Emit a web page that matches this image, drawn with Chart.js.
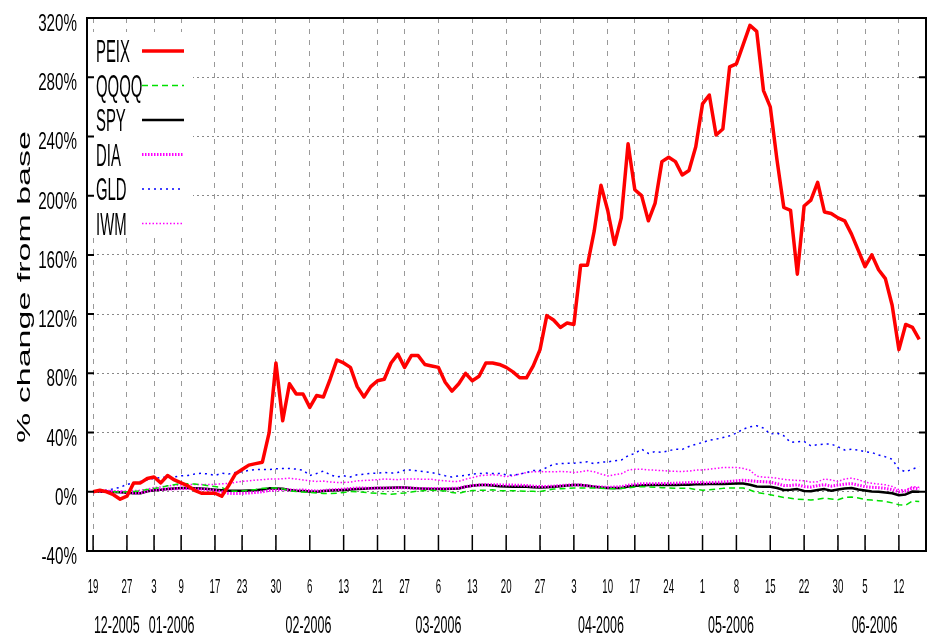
<!DOCTYPE html>
<html>
<head>
<meta charset="utf-8">
<script src="https://cdn.jsdelivr.net/npm/chart.js@4.4.1/dist/chart.umd.min.js"></script>
<style>
html, body { margin: 0; padding: 0; background: #fff; }
</style>
</head>
<body>
<canvas id="myChart" width="938" height="644"></canvas>
<script>
// trading days, Dec 19 2005 .. Jun 15 2006
var Dates = [
 "12-19","12-20","12-21","12-22","12-23","12-27","12-28","12-29","12-30",
 "01-03","01-04","01-05","01-06","01-09","01-10","01-11","01-12","01-13","01-17","01-18","01-19","01-20",
 "01-23","01-24","01-25","01-26","01-27","01-30","01-31",
 "02-01","02-02","02-03","02-06","02-07","02-08","02-09","02-10","02-13","02-14","02-15","02-16","02-17",
 "02-21","02-22","02-23","02-24","02-27","02-28",
 "03-01","03-02","03-03","03-06","03-07","03-08","03-09","03-10","03-13","03-14","03-15","03-16","03-17",
 "03-20","03-21","03-22","03-23","03-24","03-27","03-28","03-29","03-30","03-31",
 "04-03","04-04","04-05","04-06","04-07","04-10","04-11","04-12","04-13","04-17","04-18","04-19","04-20","04-21",
 "04-24","04-25","04-26","04-27","04-28",
 "05-01","05-02","05-03","05-04","05-05","05-08","05-09","05-10","05-11","05-12","05-15","05-16","05-17","05-18","05-19",
 "05-22","05-23","05-24","05-25","05-26","05-30","05-31",
 "06-01","06-02","06-05","06-06","06-07","06-08","06-09","06-12","06-13","06-14","06-15"
];

// % change from base
var PEIX = [0,1,0,-2,-5,-3,6,6,9,10, 6,11,8,6,4,1,-1,-1,-1,-3,
 4,12,15,18,19,20,40,87,48,73, 66,66,57,65,64,76,89,87,84,71,
 64,71,75,76,87,93,84,92,92,86, 85,84,74,68,73,80,75,78,87,87,
 86,84,81,77,77,85,96,119,116,111, 114,113,153,153,176,207,190,167,185,235,
 204,200,183,195,223,226,223,214,217,233, 262,268,241,245,287,289,302,315,311,271,
 260,224,192,190,147,193,197,209,189,188, 185,183,174,163,152,160,150,144,126,96,
 113,111,103];
var QQQQ = [0,0,0,0,-0.2,0,0.2,0.7,1.5,2.3, 3,4,4.8,5.6,5.4,5.2,4.8,4,3.5,2.9,
 0.7,0.4,0.5,1.1,1.5,2.3,2.5,2.5,2,0.7, 0.2,-0.2,-0.5,-0.8,-1.1,-1.1,-1,-0.5,0.2,0,
 -0.4,-0.8,-1.1,-1.4,-1.6,-1.2,-0.8,-0.2,0.5,0.8, 1.1,0.8,0.5,-0.5,-1,0.2,0.8,1,1,1.3,
 0.7,0.7,0.7,0.5,0.3,0.3,0.2,1,1.8,2.1, 2.3,2.5,2.5,2.5,2.5,2.3,2.2,2.1,2.3,2.5,
 3.2,3.4,3.3,3,2.8,2.5,2.3,2.4,2.5,1.5, 1.1,1.3,1.8,2.3,2.5,2.5,2.5,1.2,-0.5,-1.2,
 -2,-2.8,-3.8,-4.3,-5,-5.2,-5.6,-5,-4.3,-4.8, -5.4,-3.8,-3.5,-4.2,-5.2,-5.6,-6,-6.5,-7.5,-8.8,
 -9,-6.3,-6.6];
var SPY = [0,0,0.2,-0.2,-0.4,-0.6,-1,-1,0.3,1.1, 1.3,1.8,2.2,2.5,2.5,2.4,2.2,1.8,1.4,1.1,
 0.7,0.7,0.7,0.9,1.1,1.6,2.3,2.2,2,1.2, 0.7,0.5,0.2,0,0.5,0.8,1,1.2,1.5,1.8,
 2.1,2.3,2.5,2.5,2.7,2.9,2.9,2.6,2.3,2, 1.8,1.8,1.9,2.1,2.2,3.4,4,4.5,4.5,4.2,
 3.8,3.5,3.4,3.4,3.4,3.1,2.9,3,3.4,3.8, 4.2,4.5,4.5,4,3.4,2.9,2.5,2.5,2.5,3.5,
 4.1,4.3,4.5,4.5,4.5,4.6,4.6,4.7,4.7,5, 5.1,5.2,5.2,5.3,5.5,5.6,5.6,4.8,3.6,3.4,
 3.4,2.5,1.2,1.3,1.8,0.5,0.3,1.2,1.8,0.7, 1.5,2.2,2.5,1.5,0.8,0.2,0,-0.5,-1,-2.3,
 -1.8,0.2,0];
var DIA = [0,0.3,0.5,0.2,-0.2,-0.5,-0.8,-0.8,0.5,1.3, 1.5,1.8,2,2.3,2.2,2,1.8,1.5,1,0,
 -1,-1.2,-1,-0.8,-0.5,0,0.8,1.2,1.5,1.2, 1,1.2,0.8,0.5,0.8,1.2,1.5,1.8,2.2,2.5,
 2.5,2.3,2.5,2.6,2.5,2.7,2.7,2.5,2.3,2.2, 2.2,2.2,2.1,2.3,2.5,3.5,4.2,4.5,4.8,4.8,
 4.7,4.5,4.5,4.4,4.2,3.8,3.5,3.6,3.8,4.2, 4.5,4.6,4.5,4,3.5,3.2,3,3.2,3.4,4.4,
 5,5.4,5.5,5.5,5.6,5.6,5.8,6,6.2,6.5, 6,6.2,6.4,6.6,7,7.4,7.8,7.5,7,6.8,
 6.5,5.5,4.2,4.3,4.8,3.5,3.2,4.2,4.8,3.8, 4.5,5.2,5.5,4.5,3.5,3,2.8,2.3,1.5,0,
 0.5,2.5,2];
var GLD = [0,1,1,2,3,5,6,7,8,9, 9.7,10,10,10.8,11,12,12.5,12,11,12.5,
 12,13,13.5,14.5,15,15,15,15.5,15.7,15.7, 15.3,14.6,11,12.3,14,11.5,10,10.8,10,11.5,
 11.9,12.4,12.6,13,12.6,13,14.6,14.8,14,13.5, 13,11.9,10.8,10,10.8,11,12,12.3,12.6,12.4,
 12.4,11.5,11.1,12,13,14.3,14.3,16.4,18.6,19, 19.3,19.3,19.8,20.2,19,20,20.2,20.9,21.4,24.3,
 25.9,28.8,25.9,27.2,26.6,27.7,28.8,28.6,30.6,32.1, 33.3,34.8,35.5,36.6,37.8,39.6,42.3,43.9,44.6,43,
 39,39.6,37.8,33.3,33.8,34,31,31.8,32.2,32.2, 30.4,28.2,28.8,28.2,27,26.6,24.8,23.6,22,15.3,
 13.5,15.3,17.1];
var IWM = [0,0.2,0.3,0.5,0.5,0.6,0.8,1,1.8,2.9, 3.3,4,4.3,4.6,4.8,5,5,5,5,5.4,
 5.6,6.3,7,7.4,7.9,8.2,8.6,8.6,8.8,9.2, 8.6,8,7.4,7,7.2,6.6,6.3,6.3,6.5,7.4,
 7.6,7.9,8.2,8.6,8.4,8.2,8.6,8.6,8.6,8.4, 8.4,7.8,7.4,7,7,8.5,9.5,10.8,11.2,11.5,
 11.2,10.2,10.8,12,13,13.5,13.7,13.5,13.5,13.7, 13.5,13,13.5,14.3,13.5,12,10.7,11.5,12.2,14.5,
 15.3,15.2,14.8,14.6,14.3,14,13.8,13.7,14,14.6, 14.8,15.2,15.8,16.4,16.4,16.4,15.8,14.5,10.5,9.8,
 9.7,9.2,8.3,8,7.6,7.5,6.5,6.8,8.6,8, 7,8.6,9.2,8.2,6.5,5.8,5.2,4.7,3.6,1.5,
 1.2,3.5,3];

// x tick labels
var TickDates = ["12-19","12-27","01-03","01-09","01-17","01-23","01-30","02-06","02-13","02-21","02-27",
 "03-06","03-13","03-20","03-27","04-03","04-10","04-17","04-24","05-01","05-08","05-15","05-22","05-30",
 "06-05","06-12"];
var Months = ["12-2005","01-2006","02-2006","03-2006","04-2006","05-2006","06-2006"];
var MonthAt = [3.5, 11.6, 31.8, 51, 75, 94.2, 115.4]; // in trading days

function pts(arr) {
  return arr.map(function (v, i) { return {x: i, y: v}; });
}

// gnuplot text is very condensed, so squeeze the canvas while writing
function txt(ctx, s, x, y, size, sx, align) {
  ctx.save();
  ctx.translate(x, y);
  ctx.scale(sx, 1);
  ctx.font = size + 'px "Liberation Sans", Arial, sans-serif';
  ctx.textAlign = align;
  ctx.textBaseline = 'alphabetic';
  ctx.fillStyle = '#000';
  ctx.fillText(s, 0, 0);
  ctx.restore();
}

var frame = {
  id: 'frame',
  beforeDatasetsDraw: function (chart) {
    var a = chart.chartArea, ctx = chart.ctx;
    ctx.save();
    ctx.fillStyle = '#fff';
    ctx.fillRect(a.left + 1, a.top + 14, 105, 204); // legend box
    ctx.restore();
  },
  afterDraw: function (chart) {
    var a = chart.chartArea, ctx = chart.ctx;
    var xs = chart.scales.x, ys = chart.scales.y;
    ctx.save();
    ctx.strokeStyle = '#000';
    ctx.lineWidth = 2;
    ctx.strokeRect(a.left, a.top, a.right - a.left, a.bottom - a.top);
    // y ticks both sides + labels
    ys.ticks.forEach(function (t) {
      var py = ys.getPixelForValue(t.value);
      ctx.beginPath();
      ctx.moveTo(a.left, py); ctx.lineTo(a.left + 7, py);
      ctx.moveTo(a.right - 7, py); ctx.lineTo(a.right, py);
      ctx.stroke();
      txt(ctx, t.value + '%', a.left - 10, py + 13, 23, 0.66, 'right');
    });
    // x ticks + day labels
    ctx.lineWidth = 1.5;
    xs.ticks.forEach(function (t, i) {
      var px = xs.getPixelForValue(t.value);
      ctx.beginPath();
      ctx.moveTo(px, a.bottom); ctx.lineTo(px, a.bottom - 16);
      ctx.stroke();
      txt(ctx, String(parseInt(TickDates[i].slice(3), 10)), px, 593, 21, 0.46, 'center');
    });
    Months.forEach(function (m, i) {
      txt(ctx, m, xs.getPixelForValue(MonthAt[i]), 633, 24, 0.52, 'center');
    });
    // legend
    chart.data.datasets.forEach(function (d, i) {
      var base = a.top + 44 + 34.5 * i;
      txt(ctx, d.label, a.left + 9, base, 31, 0.48, 'left');
      ctx.save();
      ctx.strokeStyle = d.borderColor;
      ctx.lineWidth = d.borderWidth;
      ctx.setLineDash(d.borderDash || []);
      ctx.beginPath();
      ctx.moveTo(a.left + 55, base - 11);
      ctx.lineTo(a.left + 97, base - 11);
      ctx.stroke();
      ctx.restore();
    });
    // y title
    ctx.save();
    ctx.translate(25, 287);
    ctx.scale(0.53, 1);
    ctx.rotate(-Math.PI / 2);
    ctx.font = '34px "Liberation Sans", Arial, sans-serif';
    ctx.textAlign = 'center';
    ctx.textBaseline = 'middle';
    ctx.fillStyle = '#000';
    ctx.fillText('% change from base', 0, 0);
    ctx.restore();
    ctx.restore();
  }
};

var ctx = document.getElementById("myChart");
var myChart = new Chart(ctx, {
  type: 'line',
  data: {
    labels: Dates,
    datasets: [
      { label: "PEIX", data: pts(PEIX), borderColor: "#ff0000", borderWidth: 3.5 },
      { label: "QQQQ", data: pts(QQQQ), borderColor: "#00e000", borderWidth: 1.5, borderDash: [6, 4] },
      { label: "SPY", data: pts(SPY), borderColor: "#000000", borderWidth: 2.5, order: 1 },
      { label: "DIA", data: pts(DIA), borderColor: "#ff00ff", borderWidth: 3, borderDash: [1.5, 1.5] },
      { label: "GLD", data: pts(GLD), borderColor: "#0000ff", borderWidth: 1.5, borderDash: [2, 4] },
      { label: "IWM", data: pts(IWM), borderColor: "#ff00ff", borderWidth: 1.5, borderDash: [1.5, 2] }
    ]
  },
  options: {
    responsive: false,
    animation: false,
    layout: { padding: { left: 0, right: 12, top: 18, bottom: 0 } },
    elements: { point: { radius: 0 }, line: { tension: 0, borderJoinStyle: 'round' } },
    plugins: { legend: { display: false }, tooltip: { enabled: false } },
    scales: {
      x: {
        type: 'linear', min: -0.9, max: 123,
        afterBuildTicks: function (s) {
          s.ticks = TickDates.map(function (d) { return { value: Dates.indexOf(d) }; });
        },
        afterFit: function (s) { s.height = 93; },
        ticks: { display: false },
        grid: { color: '#999', drawTicks: false },
        border: { display: false, dash: [5, 6] }
      },
      y: {
        min: -40, max: 320,
        ticks: { stepSize: 40, display: false },
        afterFit: function (s) { s.width = 87; },
        grid: { color: '#888', drawTicks: false },
        border: { display: false, dash: [2, 3] }
      }
    }
  },
  plugins: [frame]
});
</script>
</body>
</html>
